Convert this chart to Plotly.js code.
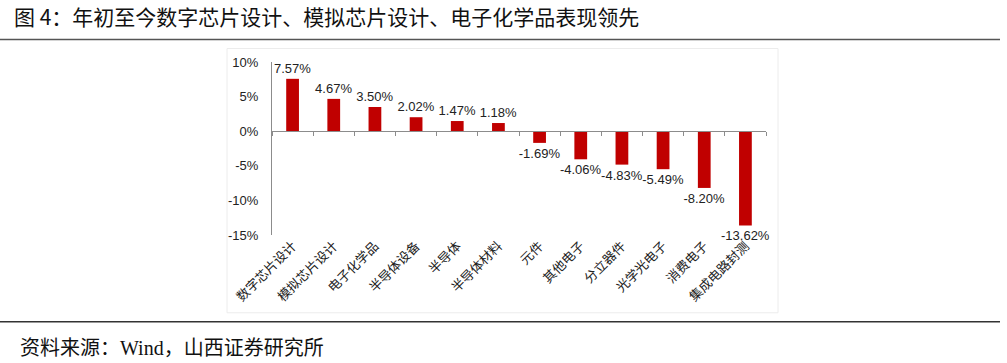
<!DOCTYPE html>
<html>
<head>
<meta charset="utf-8">
<script src="https://cdn.plot.ly/plotly-3.0.1.min.js"></script>
<style>html,body{margin:0;padding:0;background:#fff;}#chart{width:1007px;height:363px;}</style>
</head>
<body>
<div id="chart"></div>
<script>
const categories = ["数字芯片设计","模拟芯片设计","电子化学品","半导体设备","半导体","半导体材料","元件","其他电子","分立器件","光学光电子","消费电子","集成电路封测"];
const values = [7.57, 4.67, 3.50, 2.02, 1.47, 1.18, -1.69, -4.06, -4.83, -5.49, -8.20, -13.62];
const yTickVals = [10, 5, 0, -5, -10, -15];
const yTickText = ["10%", "5%", "0%", "-5%", "-10%", "-15%"];
const titleText = "图 4：年初至今数字芯片设计、模拟芯片设计、电子化学品表现领先";
const sourceText = "资料来源：Wind，山西证券研究所";

const W = 1007, H = 363;
const L = 272, R = 766, T = 61.5, B = 235;
const px = x => (x - L) / (R - L);
const py = y => (B - y) / (B - T);

const labels = values.map(v => v.toFixed(2) + "%");
const boundaries = [];
for (let i = 0; i <= categories.length; i++) boundaries.push(i - 0.5);

const trace = {
  type: "bar",
  x: categories,
  y: values,
  marker: {color: "#C00000"},
  text: labels,
  textposition: "outside",
  constraintext: "none",
  textfont: {family: "Liberation Sans, Arial, sans-serif", size: 13, color: "#222"},
  cliponaxis: false,
  hoverinfo: "none"
};
const dummy = {type: "scatter", x: [], y: [], xaxis: "x2", yaxis: "y", showlegend: false, hoverinfo: "none"};

const layout = {
  width: W, height: H,
  margin: {l: L, r: W - R, t: T, b: H - B, pad: 0},
  paper_bgcolor: "#fff", plot_bgcolor: "#fff",
  showlegend: false,
  bargap: 0.69,
  font: {family: "Liberation Sans, Arial, Noto Sans CJK SC, sans-serif", color: "#222"},
  title: {
    text: titleText,
    x: 14 / W, xref: "container", xanchor: "left",
    y: 1 - 18 / H, yref: "container", yanchor: "middle",
    font: {family: "Noto Sans CJK SC, sans-serif", size: 21, color: "#111"}
  },
  xaxis: {
    type: "category",
    showline: false, showgrid: false, zeroline: false,
    ticks: "",
    tickangle: -45,
    tickfont: {family: "Noto Sans CJK SC, sans-serif", size: 13, color: "#222"},
    fixedrange: true
  },
  xaxis2: {
    overlaying: "x", anchor: "free", position: py(130.7),
    range: [-0.5, categories.length - 0.5],
    tickmode: "array", tickvals: boundaries,
    showticklabels: false,
    ticks: "outside", ticklen: 4, tickcolor: "#8c8c8c", tickwidth: 1,
    showline: true, linecolor: "#8c8c8c", linewidth: 1,
    showgrid: false, zeroline: false
  },
  yaxis: {
    range: [-15, 10],
    tickmode: "array", tickvals: yTickVals, ticktext: yTickText,
    showline: true, linecolor: "#8c8c8c", linewidth: 1,
    showgrid: false, zeroline: false,
    ticks: "", ticklabelstandoff: 10,
    tickfont: {family: "Liberation Sans, Arial, sans-serif", size: 13, color: "#222"}
  },
  shapes: [
    {type: "line", xref: "paper", yref: "paper", x0: px(0), x1: px(1000), y0: py(39), y1: py(39), line: {color: "#555", width: 1.5}},
    {type: "line", xref: "paper", yref: "paper", x0: px(0), x1: px(1000), y0: py(322), y1: py(322), line: {color: "#333", width: 1.5}},
    {type: "rect", xref: "paper", yref: "paper", x0: px(227), x1: px(778), y0: py(313), y1: py(48), line: {color: "#ececec", width: 1}, layer: "below"}
  ],
  annotations: [
    {text: sourceText, xref: "paper", yref: "paper", x: px(18), y: py(348), xanchor: "left", yanchor: "middle", showarrow: false,
     font: {family: "Liberation Serif, Noto Sans CJK SC, serif", size: 20, color: "#111"}}
  ]
};

Plotly.newPlot("chart", [trace, dummy], layout, {staticPlot: true, displayModeBar: false});
</script>
</body>
</html>
